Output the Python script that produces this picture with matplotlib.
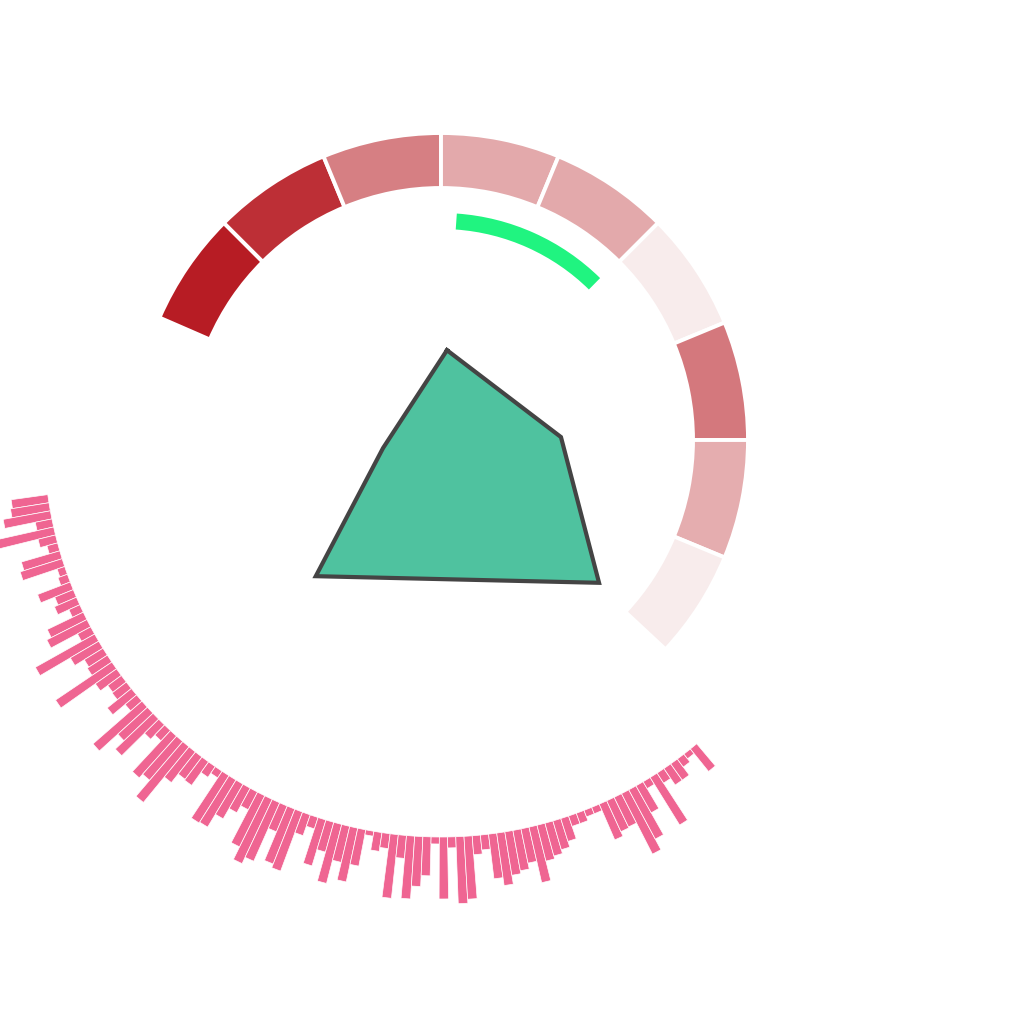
import numpy as np
import matplotlib
matplotlib.use('Agg')
import matplotlib.pyplot as plt
from matplotlib.colors import LinearSegmentedColormap, Normalize

# outer heat ring: one value per 22.5 deg sector, clockwise from the left
ring_values = [10.0, 9.1, 5.3, 3.3, 3.3, 0.1, 5.6, 3.1, 0.1]
ring_first_edge = -67.5
ring_clip = (-66.5, 133.0)

# radar polygon (angle in deg from north, clockwise)
radar_angles = [3.8, 88.6, 132.1, 222.6, 262.1]
radar_values = [90, 120, 213, 185, 58.5]

# green progress arc
arc_span = (4.0, 44.5)

# radial bars, from the upper-left end towards the lower-right end
bar_values = [37, 39, 48, 17, 58, 18, 11, 40, 44, 8, 10, 35, 20, 24, 12, 40, 45, 15,
              68, 33, 22, 24, 68, 26, 17, 18,
              31, 15, 65, 40, 52, 20, 14, 56, 51, 72, 39, 28, 29, 13, 8, 56, 55, 40, 28, 20,
              57, 71, 64, 28, 59, 63,
              22, 12, 48, 31, 61, 37, 55, 37, 5, 19, 15, 64, 23, 63, 50, 39, 7, 62, 11, 67,
              63, 19, 15, 45, 53, 44, 41, 35, 57, 37, 34, 30, 24, 11, 11, 7, 7,
              39, 34, 33, 68, 56, 31, 8, 56, 12, 20, 20, 10, 6, 29]
bar_span = (261.5, 140.5)

# layout (pixels, figure is 1024x1024)
cx, cy, R = 441, 440, 480
ring_in, ring_out = 252, 307
arc_r, arc_w = 211, 16
bar_base = 397

fig = plt.figure(figsize=(10.24, 10.24), dpi=100)
fig.patch.set_facecolor('white')
ax = fig.add_axes([(cx - R) / 1024, (1024 - cy - R) / 1024, 2 * R / 1024, 2 * R / 1024],
                  projection='polar')
ax.set_theta_zero_location('N')
ax.set_theta_direction(-1)
ax.set_rlim(0, R)
ax.axis('off')

# heat ring
cmap = LinearSegmentedColormap.from_list('reds', ['#f9eeee', '#b71c24'])
norm = Normalize(0, 10)
for i, v in enumerate(ring_values):
    a0 = max(ring_first_edge + 22.5 * i, ring_clip[0])
    a1 = min(ring_first_edge + 22.5 * (i + 1), ring_clip[1])
    ax.bar(np.deg2rad(a0), ring_out - ring_in, width=np.deg2rad(a1 - a0), bottom=ring_in,
           align='edge', color=cmap(norm(v)), edgecolor='white', linewidth=2.8)

# green arc
ax.bar(np.deg2rad(arc_span[0]), arc_w, width=np.deg2rad(arc_span[1] - arc_span[0]),
       bottom=arc_r, align='edge', color='#20f480', linewidth=0)

# radar polygon
th = np.deg2rad(radar_angles + radar_angles[:1])
rr = radar_values + radar_values[:1]
ax.fill(th, rr, color='#4fc29f', zorder=3)
ax.plot(th, rr, color='#444444', linewidth=3, solid_joinstyle='miter', zorder=4)

# radial bars
theta = np.linspace(bar_span[0], bar_span[1], len(bar_values))
step = abs(theta[1] - theta[0])
ax.bar(np.deg2rad(theta), bar_values, width=np.deg2rad(step), bottom=bar_base,
       color='#ef6592', edgecolor='white', linewidth=0.5)

fig.savefig('out.png', dpi=100, facecolor='white')
